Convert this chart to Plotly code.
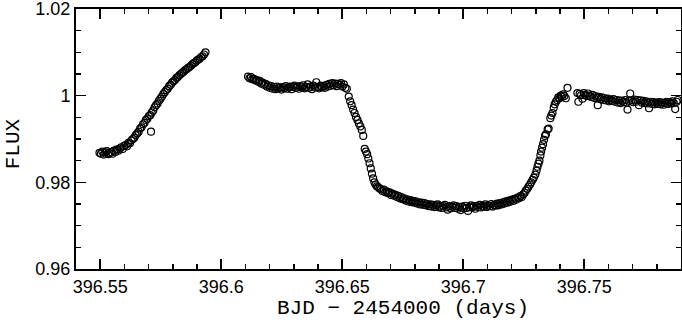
import plotly.graph_objects as go

# ---- data (BJD - 2454000, normalized flux) ----
seg1_time = [396.5497, 396.5503, 396.5509, 396.5515, 396.5521, 396.5527, 396.5533, 396.5539, 396.5545, 396.5551,
             396.5557, 396.5563, 396.5569, 396.5575, 396.5581, 396.5587, 396.5593, 396.5599, 396.5605, 396.5611,
             396.5617, 396.5623, 396.5629, 396.5635, 396.5641, 396.5647, 396.5653, 396.5659, 396.5665, 396.5671,
             396.5677, 396.5683, 396.5689, 396.5695, 396.5701, 396.5707, 396.5710, 396.5713, 396.5719, 396.5725,
             396.5731, 396.5737, 396.5743, 396.5749, 396.5755, 396.5761, 396.5767, 396.5773, 396.5779, 396.5785,
             396.5791, 396.5797, 396.5803, 396.5809, 396.5815, 396.5821, 396.5827, 396.5833, 396.5839, 396.5845,
             396.5851, 396.5857, 396.5863, 396.5869, 396.5875, 396.5881, 396.5887, 396.5893, 396.5899, 396.5905,
             396.5911, 396.5917, 396.5923, 396.5929, 396.5935]
seg1_flux = [0.9868, 0.9866, 0.9871, 0.9864, 0.9869, 0.9872, 0.9865, 0.9867, 0.9870, 0.9866,
             0.9873, 0.9870, 0.9876, 0.9873, 0.9878, 0.9881, 0.9877, 0.9884, 0.9886, 0.9883,
             0.9891, 0.9890, 0.9897, 0.9900, 0.9903, 0.9909, 0.9913, 0.9917, 0.9924, 0.9927,
             0.9934, 0.9937, 0.9944, 0.9947, 0.9953, 0.9955, 0.9917, 0.9961, 0.9966, 0.9973,
             0.9978, 0.9982, 0.9988, 0.9993, 0.9998, 1.0004, 1.0008, 1.0013, 1.0016, 1.0022,
             1.0025, 1.0030, 1.0033, 1.0036, 1.0041, 1.0043, 1.0047, 1.0050, 1.0053, 1.0055,
             1.0059, 1.0061, 1.0064, 1.0066, 1.0069, 1.0073, 1.0075, 1.0077, 1.0081, 1.0083,
             1.0085, 1.0089, 1.0091, 1.0095, 1.0100]

seg2_time = [396.6111, 396.6117, 396.6123, 396.6129, 396.6135, 396.6141, 396.6147, 396.6153, 396.6159, 396.6165,
             396.6171, 396.6177, 396.6183, 396.6189, 396.6195, 396.6201, 396.6207, 396.6213, 396.6219, 396.6225,
             396.6231, 396.6237, 396.6243, 396.6249, 396.6255, 396.6261, 396.6267, 396.6273, 396.6279, 396.6285,
             396.6291, 396.6297, 396.6303, 396.6309, 396.6315, 396.6321, 396.6327, 396.6333, 396.6339, 396.6345,
             396.6351, 396.6357, 396.6363, 396.6369, 396.6375, 396.6381, 396.6387, 396.6393, 396.6399, 396.6405,
             396.6411, 396.6417, 396.6423, 396.6429, 396.6435, 396.6441, 396.6447, 396.6453, 396.6459, 396.6465,
             396.6471, 396.6477, 396.6483, 396.6489, 396.6495, 396.6501, 396.6507, 396.6513, 396.6519,
             # ingress
             396.6527, 396.6533, 396.6539, 396.6545, 396.6551, 396.6557, 396.6563, 396.6569, 396.6575, 396.6581,
             396.6587, 396.6593, 396.6598, 396.6603, 396.6608, 396.6613, 396.6618, 396.6623, 396.6628, 396.6633,
             396.6638, 396.6643, 396.6648,
             # bottom
             396.6654, 396.6660, 396.6666, 396.6672, 396.6678, 396.6684, 396.6690, 396.6696, 396.6702, 396.6708,
             396.6714, 396.6720, 396.6726, 396.6732, 396.6738, 396.6744, 396.6750, 396.6756, 396.6762, 396.6768,
             396.6774, 396.6780, 396.6786, 396.6792, 396.6798, 396.6804, 396.6810, 396.6816, 396.6822, 396.6828,
             396.6834, 396.6840, 396.6846, 396.6852, 396.6858, 396.6864, 396.6870, 396.6876, 396.6882, 396.6888,
             396.6894, 396.6900, 396.6906, 396.6912, 396.6918, 396.6924, 396.6930, 396.6936, 396.6942, 396.6948,
             396.6954, 396.6960, 396.6966, 396.6972, 396.6978, 396.6984, 396.6990, 396.6996, 396.7002, 396.7008,
             396.7014, 396.7020, 396.7026, 396.7032, 396.7038, 396.7044, 396.7050, 396.7056, 396.7062, 396.7068,
             396.7074, 396.7080, 396.7086, 396.7092, 396.7098, 396.7104, 396.7110, 396.7116, 396.7122, 396.7128,
             396.7134, 396.7140, 396.7146, 396.7152, 396.7158, 396.7164, 396.7170, 396.7176, 396.7182, 396.7188,
             396.7194, 396.7200, 396.7206, 396.7212, 396.7218, 396.7224, 396.7230,
             # egress
             396.7236, 396.7242, 396.7248, 396.7254, 396.7259, 396.7265, 396.7270, 396.7276, 396.7281, 396.7287,
             396.7292, 396.7298, 396.7303, 396.7307, 396.7311, 396.7315, 396.7319, 396.7322, 396.7326, 396.7330,
             396.7334, 396.7338, 396.7342, 396.7349, 396.7353, 396.7360, 396.7364, 396.7369, 396.7374, 396.7378,
             396.7383, 396.7388, 396.7393, 396.7398, 396.7403, 396.7408, 396.7413, 396.7418, 396.7424, 396.7431]
seg2_flux = [1.0044, 1.0040, 1.0043, 1.0038, 1.0039, 1.0035, 1.0036, 1.0032, 1.0034, 1.0028,
             1.0030, 1.0025, 1.0027, 1.0021, 1.0024, 1.0018, 1.0022, 1.0016, 1.0020, 1.0015,
             1.0021, 1.0017, 1.0019, 1.0014, 1.0020, 1.0017, 1.0022, 1.0016, 1.0019, 1.0021,
             1.0015, 1.0020, 1.0023, 1.0018, 1.0021, 1.0016, 1.0022, 1.0019, 1.0024, 1.0017,
             1.0020, 1.0026, 1.0018, 1.0021, 1.0015, 1.0023, 1.0019, 1.0031, 1.0020, 1.0017,
             1.0023, 1.0019, 1.0022, 1.0018, 1.0025, 1.0021, 1.0027, 1.0023, 1.0029, 1.0024,
             1.0028, 1.0022, 1.0027, 1.0025, 1.0029, 1.0021, 1.0026, 1.0018, 1.0016,
             0.9998, 0.9987, 0.9978, 0.9968, 0.9960, 0.9951, 0.9944, 0.9936, 0.9929, 0.9921,
             0.9907, 0.9877, 0.9871, 0.9865, 0.9855, 0.9844, 0.9832, 0.9820, 0.9809, 0.9800,
             0.9795, 0.9791, 0.9789,
             0.9786, 0.9784, 0.9780, 0.9783, 0.9777, 0.9779, 0.9775, 0.9777, 0.9771, 0.9774,
             0.9769, 0.9771, 0.9766, 0.9769, 0.9763, 0.9766, 0.9761, 0.9763, 0.9758, 0.9761,
             0.9756, 0.9759, 0.9754, 0.9757, 0.9753, 0.9756, 0.9751, 0.9754, 0.9749, 0.9753,
             0.9748, 0.9752, 0.9747, 0.9750, 0.9745, 0.9749, 0.9744, 0.9748, 0.9743, 0.9747,
             0.9749, 0.9742, 0.9746, 0.9741, 0.9745, 0.9748, 0.9742, 0.9737, 0.9745, 0.9740,
             0.9744, 0.9747, 0.9741, 0.9745, 0.9739, 0.9743, 0.9736, 0.9744, 0.9740, 0.9746,
             0.9741, 0.9734, 0.9743, 0.9747, 0.9742, 0.9745, 0.9739, 0.9746, 0.9743, 0.9748,
             0.9742, 0.9746, 0.9744, 0.9749, 0.9743, 0.9747, 0.9745, 0.9750, 0.9744, 0.9748,
             0.9746, 0.9751, 0.9747, 0.9752, 0.9749, 0.9754, 0.9751, 0.9756, 0.9753, 0.9758,
             0.9755, 0.9760, 0.9757, 0.9762, 0.9760, 0.9765, 0.9763,
             0.9768, 0.9766, 0.9772, 0.9776, 0.9781, 0.9785, 0.9790, 0.9795, 0.9800, 0.9806,
             0.9811, 0.9818, 0.9827, 0.9836, 0.9843, 0.9850, 0.9862, 0.9871, 0.9880, 0.9888,
             0.9898, 0.9907, 0.9911, 0.9922, 0.9924, 0.9948, 0.9954, 0.9960, 0.9972, 0.9980,
             0.9986, 0.9990, 0.9996, 0.9994, 1.0000, 0.9997, 1.0003, 0.9999, 0.9994, 1.0018]

seg3_time = [396.7472, 396.7476, 396.7481, 396.7487, 396.7493, 396.7498, 396.7504, 396.7510, 396.7516, 396.7522,
             396.7528, 396.7534, 396.7540, 396.7546, 396.7552, 396.7556, 396.7561, 396.7567, 396.7573, 396.7579,
             396.7585, 396.7591, 396.7597, 396.7603, 396.7609, 396.7615, 396.7621, 396.7627, 396.7633, 396.7639,
             396.7645, 396.7651, 396.7657, 396.7663, 396.7669, 396.7675, 396.7679, 396.7685, 396.7690, 396.7696,
             396.7702, 396.7708, 396.7714, 396.7720, 396.7726, 396.7732, 396.7738, 396.7744, 396.7750, 396.7756,
             396.7762, 396.7768, 396.7774, 396.7780, 396.7786, 396.7792, 396.7798, 396.7804, 396.7810, 396.7816,
             396.7822, 396.7828, 396.7834, 396.7840, 396.7846, 396.7852, 396.7858, 396.7864, 396.7870, 396.7876,
             396.7882, 396.7886]
seg3_flux = [1.0006, 0.9986, 1.0004, 1.0001, 0.9993, 1.0006, 1.0002, 0.9999, 1.0005, 1.0000,
             0.9997, 1.0002, 0.9995, 0.9999, 0.9994, 0.9978, 0.9997, 0.9992, 0.9996, 0.9990,
             0.9994, 0.9989, 0.9993, 0.9987, 0.9991, 0.9988, 0.9992, 0.9986, 0.9990, 0.9984,
             0.9989, 0.9983, 0.9988, 0.9985, 0.9990, 0.9984, 0.9968, 0.9988, 1.0005, 0.9989,
             0.9985, 0.9991, 0.9986, 0.9990, 0.9978, 0.9989, 0.9984, 0.9988, 0.9983, 0.9987,
             0.9982, 0.9971, 0.9986, 0.9981, 0.9985, 0.9980, 0.9984, 0.9981, 0.9985, 0.9980,
             0.9984, 0.9979, 0.9983, 0.9986, 0.9981, 0.9985, 0.9982, 0.9987, 0.9983, 0.9969,
             0.9986, 0.9990]

x_tickvals = [396.55, 396.6, 396.65, 396.7, 396.75]
x_ticktext = ["396.55", "396.6", "396.65", "396.7", "396.75"]
y_tickvals = [0.96, 0.98, 1.0, 1.02]
y_ticktext = ["0.96", "0.98", "1", "1.02"]

time = seg1_time + seg2_time + seg3_time
flux = seg1_flux + seg2_flux + seg3_flux

fig = go.Figure()
fig.add_trace(go.Scatter(
    x=time, y=flux, mode="markers",
    marker=dict(symbol="circle-open", size=7, color="black", line=dict(width=1.2, color="black")),
    showlegend=False, hoverinfo="skip", cliponaxis=True))

axis_common = dict(
    showline=True, linecolor="black", linewidth=2, mirror="allticks",
    ticks="inside", ticklen=10, tickwidth=1.5, tickcolor="black",
    showgrid=False, zeroline=False, automargin=False, ticklabeloverflow="allow",
    tickfont=dict(family="Liberation Sans, Arial, sans-serif", size=18, color="black"),
)

fig.update_xaxes(
    range=[396.54, 396.79], tickmode="array", tickvals=x_tickvals, ticktext=x_ticktext,
    minor=dict(ticks="inside", ticklen=5, tickwidth=1.5, tickcolor="black", dtick=0.01, tick0=396.54, showgrid=False),
    **axis_common)
fig.update_yaxes(
    range=[0.96, 1.0200001], tickmode="array", tickvals=y_tickvals, ticktext=y_ticktext,
    minor=dict(ticks="inside", ticklen=5, tickwidth=1.5, tickcolor="black", dtick=0.005, tick0=0.96, showgrid=False),
    **axis_common)

title_font = dict(family="Liberation Mono, Courier New, monospace", size=21, color="black")
fig.add_annotation(text="BJD \u2212 2454000 (days)", xref="paper", yref="paper",
                   x=0.54, y=-0.153, xanchor="center", yanchor="middle",
                   showarrow=False, font=title_font)
fig.add_annotation(text="FLUX", xref="paper", yref="paper",
                   x=-0.104, y=0.48, xanchor="center", yanchor="middle", textangle=-90,
                   showarrow=False, font=title_font)

fig.update_layout(
    width=682, height=327,
    margin=dict(l=76, r=1, t=9, b=58),
    paper_bgcolor="white", plot_bgcolor="white",
)

fig.write_html("out.html", config={"displayModeBar": False, "staticPlot": True},
               post_script="document.body.style.margin='0';document.body.style.padding='0';")
